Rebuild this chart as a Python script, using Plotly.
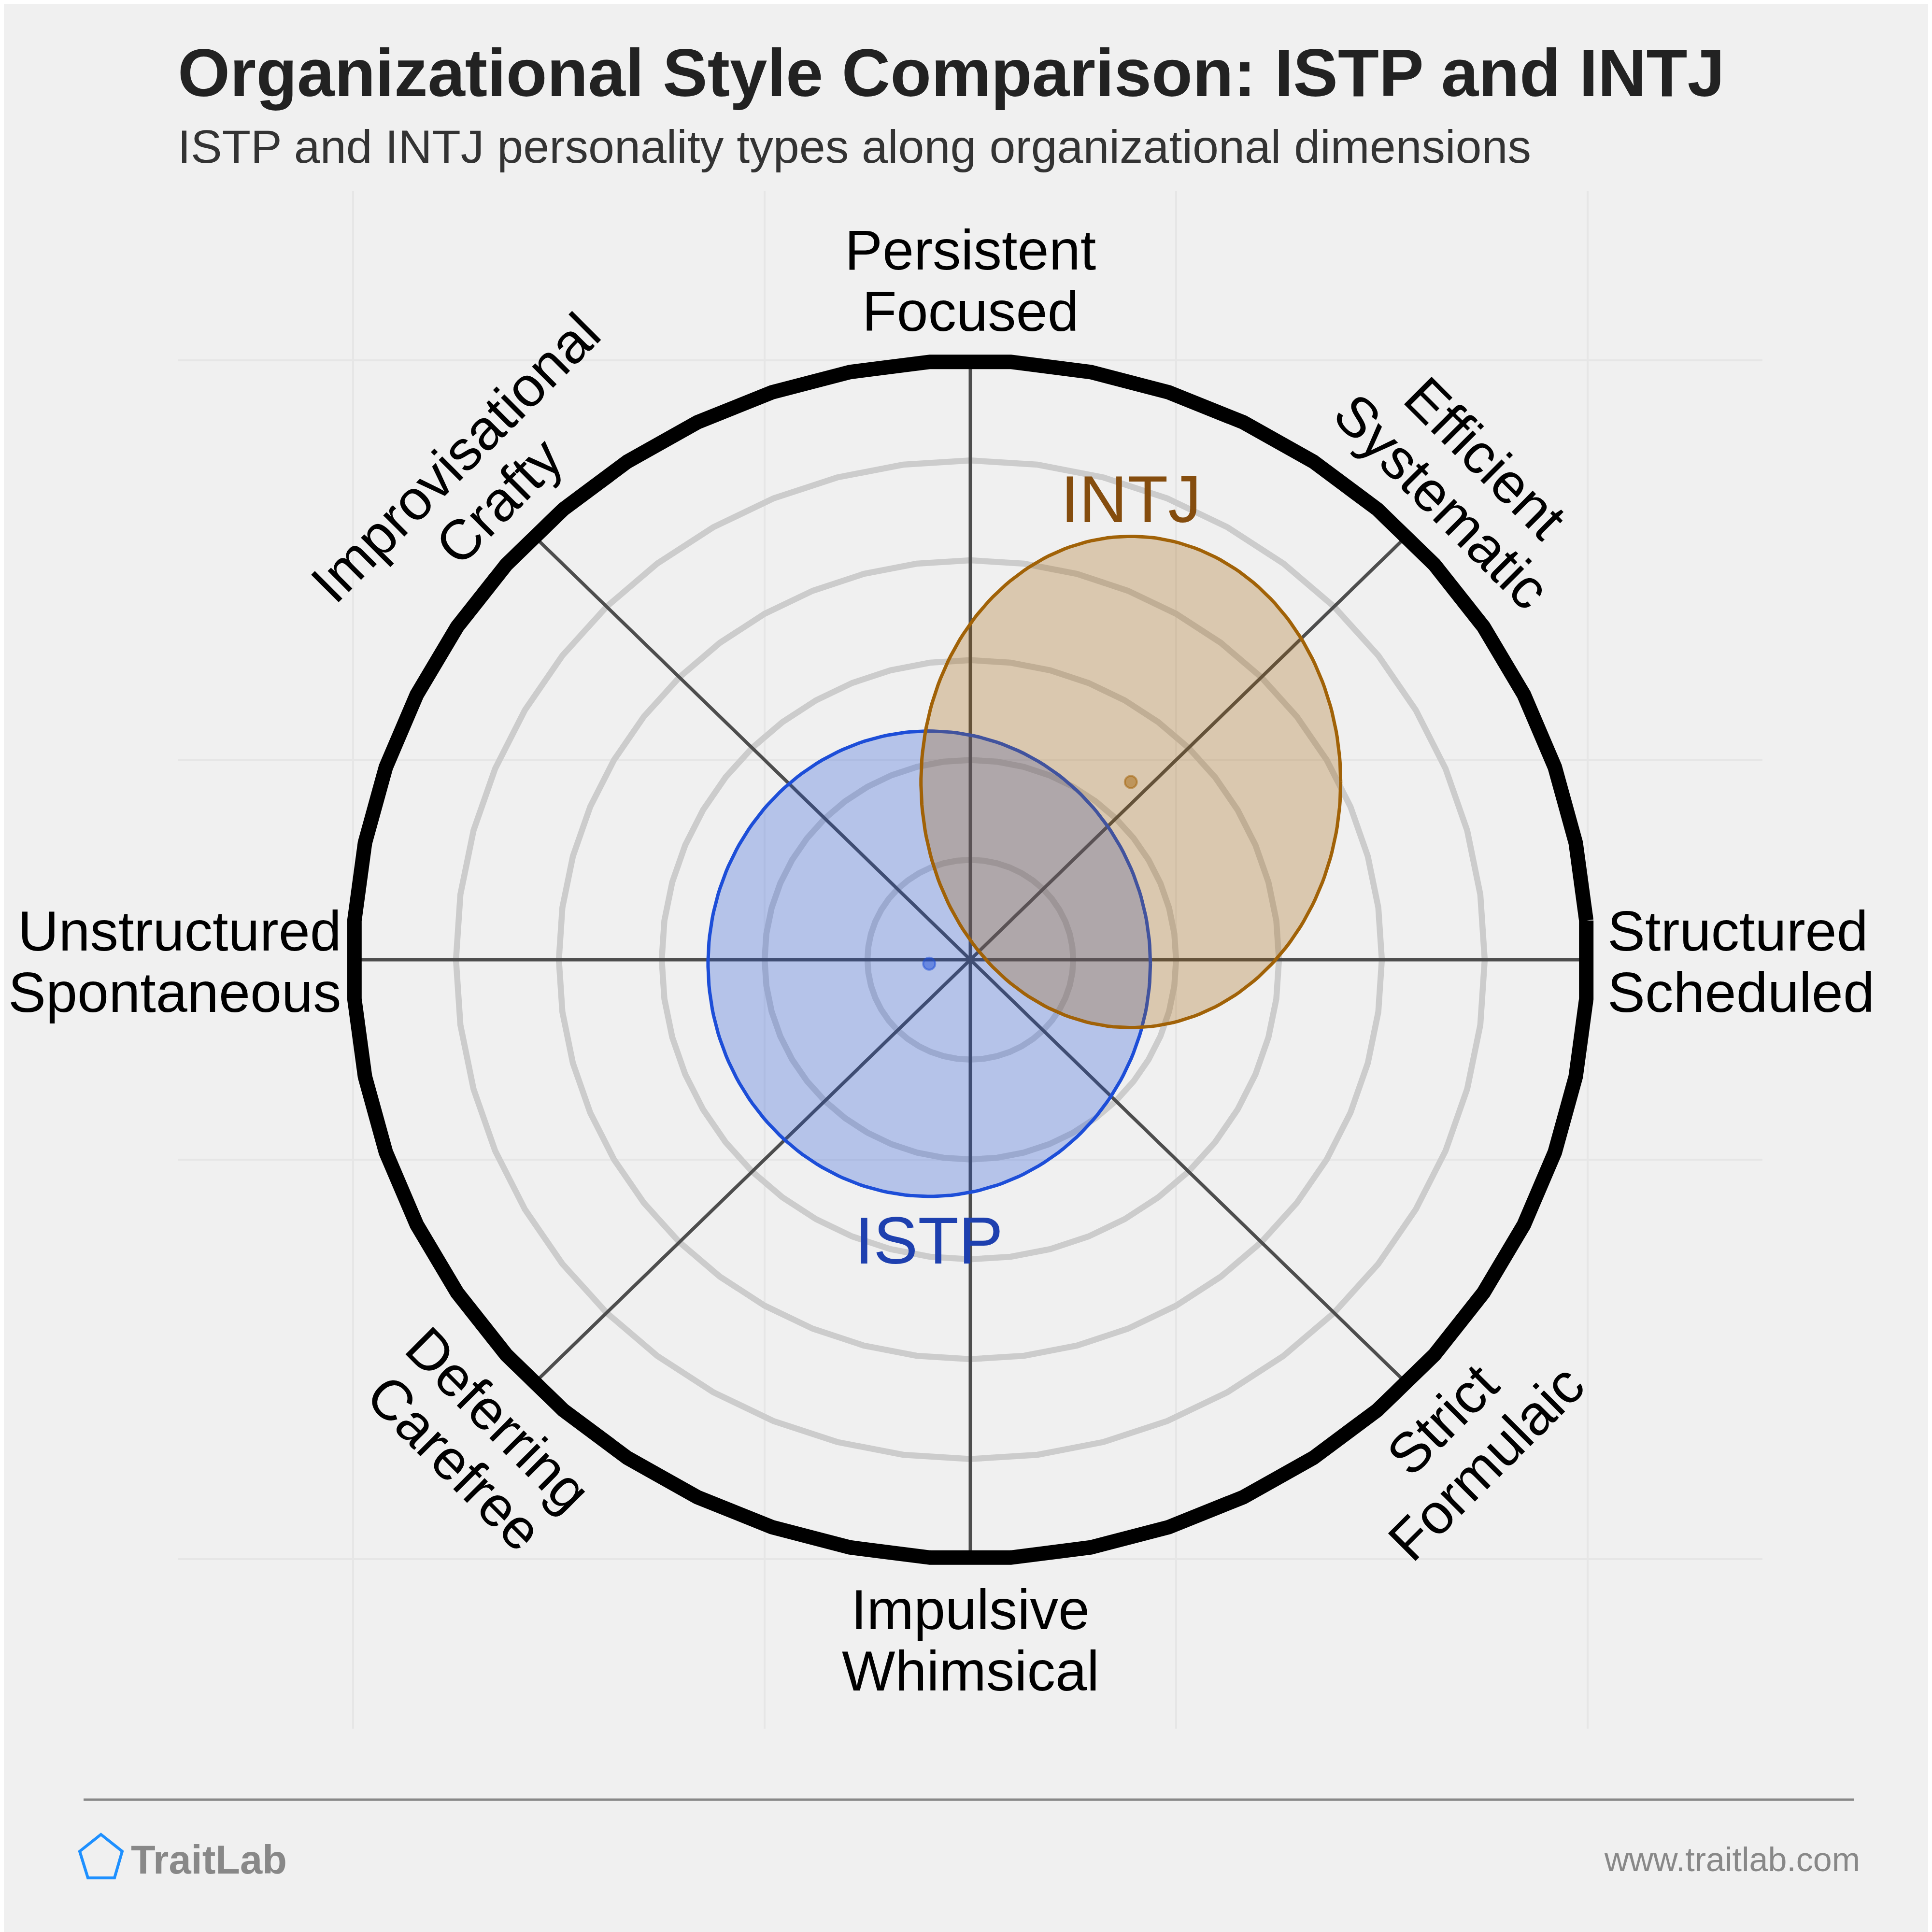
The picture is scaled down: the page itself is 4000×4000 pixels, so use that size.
import numpy as np
import plotly.graph_objects as go

# ---------------- data ----------------
TITLE = "Organizational Style Comparison: ISTP and INTJ"
SUBTITLE = "ISTP and INTJ personality types along organizational dimensions"
BRAND = "TraitLab"
URL = "www.traitlab.com"

axis_angles = [0, 45, 90, 135, 180, 225, 270, 315]
axis_line1 = ["Structured", "Efficient", "Persistent", "Improvisational",
              "Unstructured", "Deferring", "Impulsive", "Strict"]
axis_line2 = ["Scheduled", "Systematic", "Focused", "Crafty",
              "Spontaneous", "Carefree", "Whimsical", "Formulaic"]

ring_levels = [1, 2, 3, 4, 5]
outer_level = 6
axis_limit = 7.7
grid_ticks = [-6, -2, 2, 6]

type_names = ["ISTP", "INTJ"]
type_cx = [-0.40, 1.56]
type_cy = [-0.04, 1.78]
type_rx = [2.15, 2.04]
type_ry = [2.33, 2.46]
type_label_pos = ["below", "above"]

line_colors = ["#1d4ed8", "#a16207"]
fill_colors = ["rgba(29,78,216,0.28)", "rgba(161,98,7,0.28)"]
dot_colors = ["rgba(29,78,216,0.5)", "rgba(161,98,7,0.5)"]
text_colors = ["#1e40af", "#854d0e"]

# ---------------- layout geometry (screen px) ----------------
W = H = 4000
PAGE_OFF = 8                      # default page body margin
L, R, T, B = 369, 3649, 395, 3579  # plot area in screen px
FONT = "Liberation Sans, Arial, Helvetica, sans-serif"


def px_x(px):
    return (px - L) / (R - L)


def px_y(py):
    return (B - py) / (B - T)


fig = go.Figure()

# rings (48-sided polygons)
t48 = np.linspace(0, 2 * np.pi, 49)
for r in ring_levels:
    fig.add_trace(go.Scatter(x=r * np.cos(t48), y=r * np.sin(t48), mode="lines",
                             line=dict(color="#cccccc", width=12.5),
                             hoverinfo="skip", showlegend=False))

# spokes
for th in axis_angles:
    a = np.deg2rad(th)
    fig.add_trace(go.Scatter(x=[0, outer_level * np.cos(a)], y=[0, outer_level * np.sin(a)],
                             mode="lines", line=dict(color="#4d4d4d", width=7),
                             hoverinfo="skip", showlegend=False))

# outer black ring
tb = np.linspace(0, 2 * np.pi, 49) + np.pi / 48
fig.add_trace(go.Scatter(x=outer_level * np.cos(tb), y=outer_level * np.sin(tb), mode="lines",
                         line=dict(color="#000000", width=30),
                         hoverinfo="skip", showlegend=False))

# type ellipses
te = np.linspace(0, 2 * np.pi, 240)
for i, name in enumerate(type_names):
    fig.add_trace(go.Scatter(x=type_cx[i] + type_rx[i] * np.cos(te),
                             y=type_cy[i] + type_ry[i] * np.sin(te),
                             mode="lines", fill="toself", fillcolor=fill_colors[i],
                             line=dict(color=line_colors[i], width=7),
                             hoverinfo="skip", showlegend=False))
for i, name in enumerate(type_names):
    fig.add_trace(go.Scatter(x=[type_cx[i]], y=[type_cy[i]], mode="markers",
                             marker=dict(size=25, color=dot_colors[i],
                                         line=dict(color=dot_colors[i], width=4)),
                             hoverinfo="skip", showlegend=False))

annotations = []
# type labels
for i, name in enumerate(type_names):
    if type_label_pos[i] == "above":
        y0, ys = type_cy[i] + type_ry[i], 77
    else:
        y0, ys = type_cy[i] - type_ry[i], -91
    annotations.append(dict(x=type_cx[i], y=y0, xref="x", yref="y", text=name,
                            showarrow=False, xanchor="center", yanchor="middle",
                            yshift=ys, font=dict(family=FONT, size=138, color=text_colors[i])))

# axis labels
GAP = 127
NEAR = 105
for th, l1, l2 in zip(axis_angles, axis_line1, axis_line2):
    a = np.deg2rad(th)
    ex, ey = outer_level * np.cos(a), outer_level * np.sin(a)
    if th in (0, 180):
        xs = 39 if th == 0 else -22
        for k, txt in enumerate([l1, l2]):
            annotations.append(dict(x=ex, y=ey, xref="x", yref="y", text=txt, showarrow=False,
                                    xanchor="left" if th == 0 else "right", yanchor="middle",
                                    xshift=xs, yshift=(0.5 - k) * GAP - 4,
                                    font=dict(family=FONT, size=117, color="#000000")))
    else:
        ta = 90 - th if th < 180 else 270 - th
        tr = np.deg2rad(ta)
        down = (-np.sin(tr), -np.cos(tr))
        dc = NEAR + GAP / 2 - (3 if th < 180 else 0)
        for k, txt in enumerate([l1, l2]):
            off = (k - 0.5) * GAP
            xs = dc * np.cos(a) + off * down[0]
            ys = dc * np.sin(a) + off * down[1]
            annotations.append(dict(x=ex, y=ey, xref="x", yref="y", text=txt, showarrow=False,
                                    xanchor="center", yanchor="middle", textangle=ta,
                                    xshift=xs, yshift=ys,
                                    font=dict(family=FONT, size=117, color="#000000")))

# titles and footer text
annotations.append(dict(x=px_x(366), y=px_y(151), xref="paper", yref="paper", text="<b>" + TITLE + "</b>",
                        showarrow=False, xanchor="left", yanchor="middle",
                        font=dict(family=FONT, size=139, color="#222222")))
annotations.append(dict(x=px_x(366), y=px_y(303), xref="paper", yref="paper", text=SUBTITLE,
                        showarrow=False, xanchor="left", yanchor="middle",
                        font=dict(family=FONT, size=97, color="#333333")))
annotations.append(dict(x=px_x(269), y=px_y(3850), xref="paper", yref="paper", text="<b>" + BRAND + "</b>",
                        showarrow=False, xanchor="left", yanchor="middle",
                        font=dict(family=FONT, size=83, color="#888888")))
annotations.append(dict(x=px_x(3853), y=px_y(3850), xref="paper", yref="paper", text=URL,
                        showarrow=False, xanchor="right", yanchor="middle",
                        font=dict(family=FONT, size=70, color="#888888")))

pent = [(209, 3798), (253, 3833), (237, 3888), (182, 3888), (165, 3833)]
path = "M " + " L ".join(f"{px_x(x):.5f},{px_y(y):.5f}" for x, y in pent) + " Z"

shapes = [
    dict(type="line", xref="paper", yref="paper", x0=px_x(173), x1=px_x(3839),
         y0=px_y(3726), y1=px_y(3726), line=dict(color="#888888", width=5)),
    dict(type="path", xref="paper", yref="paper", path=path,
         line=dict(color="#1e90ff", width=6), fillcolor="rgba(0,0,0,0)"),
]

fig.update_layout(
    width=W, height=H,
    margin=dict(l=L - PAGE_OFF, r=W - (R - PAGE_OFF), t=T - PAGE_OFF, b=H - (B - PAGE_OFF), pad=0),
    paper_bgcolor="#f0f0f0", plot_bgcolor="#f0f0f0",
    xaxis=dict(range=[-axis_limit, axis_limit], tickvals=grid_ticks, showticklabels=False,
               showgrid=True, gridcolor="#e6e6e6", gridwidth=4, zeroline=False,
               showline=False, ticks="", fixedrange=True),
    yaxis=dict(range=[-axis_limit, axis_limit], tickvals=grid_ticks, showticklabels=False,
               showgrid=True, gridcolor="#e6e6e6", gridwidth=4, zeroline=False,
               showline=False, ticks="", fixedrange=True),
    annotations=annotations, shapes=shapes, showlegend=False,
)

fig.write_html("out.html")
